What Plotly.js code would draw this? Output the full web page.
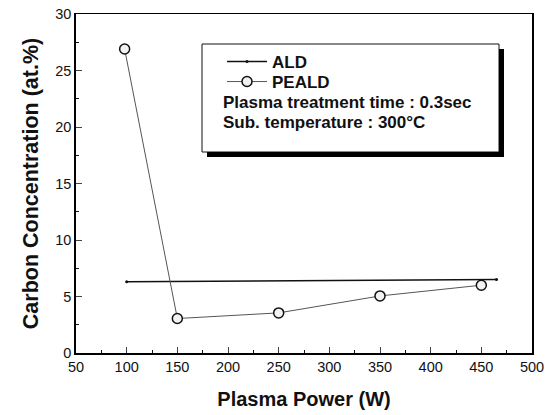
<!DOCTYPE html>
<html><head><meta charset="utf-8">
<script src="https://cdn.plot.ly/plotly-3.0.1.min.js"></script>
<style>html,body{margin:0;padding:0;background:#fff}</style>
</head><body>
<div id="chart" style="width:547px;height:415px"></div>
<script>
const pealdPower = [98, 150, 250, 350, 450];
const pealdCarbon = [26.9, 3.05, 3.55, 5.05, 6.0];
const aldPower = [100, 465];
const aldCarbon = [6.3, 6.5];
const seriesNames = ['ALD', 'PEALD'];
const noteLines = ['Plasma treatment time : 0.3sec', 'Sub. temperature : 300°C'];
const xTitle = 'Plasma Power (W)';
const yTitle = 'Carbon Concentration (at.%)';

const FONT = 'Liberation Sans, Arial, sans-serif';
const PW = 456, PH = 339; // plot area size in px
const px = v => (v - 76) / PW;
const py = v => (353 - v) / PH;

const traces = [
  {x: aldPower, y: aldCarbon, name: seriesNames[0], mode: 'lines+markers', legend: 'legend',
   line: {color: '#111', width: 1.5}, marker: {size: 3, color: '#111'}},
  {x: pealdPower, y: pealdCarbon, name: seriesNames[1], mode: 'lines+markers', legend: 'legend2',
   line: {color: '#555', width: 1}, marker: {symbol: 'circle', size: 10, color: '#f2f2f2', line: {color: '#111', width: 1.5}}}
];

const legFont = {family: FONT, size: 17, color: '#111', weight: 'bold'};
const layout = {
  width: 547, height: 415,
  margin: {l: 76, r: 15, t: 14, b: 62},
  paper_bgcolor: '#fff', plot_bgcolor: '#fff',
  font: {family: FONT, color: '#111'},
  showlegend: true,
  legend: {x: px(222), y: py(62), xanchor: 'left', yanchor: 'middle', bgcolor: 'rgba(0,0,0,0)',
           font: legFont, itemwidth: 40},
  legend2: {x: px(222), y: py(82), xanchor: 'left', yanchor: 'middle', bgcolor: 'rgba(0,0,0,0)',
           font: legFont, itemwidth: 40},
  xaxis: {range: [50, 500], dtick: 50, tick0: 50, ticks: 'inside', ticklen: 6, tickwidth: 1,
          minor: {dtick: 25, ticks: 'inside', ticklen: 3, tickcolor: '#111'},
          showline: true, linecolor: '#000', linewidth: 1.5, mirror: true, showgrid: false, zeroline: false,
          tickfont: {family: FONT, size: 14.5, color: '#111'},
          title: {text: xTitle, font: {family: FONT, size: 20, color: '#111', weight: 'bold'}, standoff: 18}},
  yaxis: {range: [0, 30], dtick: 5, ticks: 'inside', ticklen: 6, tickwidth: 1,
          minor: {dtick: 2.5, ticks: 'inside', ticklen: 3, tickcolor: '#111'},
          showline: true, linecolor: '#000', linewidth: 1.8, mirror: true, showgrid: false, zeroline: false,
          tickfont: {family: FONT, size: 14.5, color: '#111'},
          title: {text: yTitle, font: {family: FONT, size: 21.5, color: '#111', weight: 'bold'}, standoff: 11}},
  shapes: [
    {type: 'rect', xref: 'paper', yref: 'paper', x0: px(202), x1: px(499), y0: py(152), y1: py(44),
     fillcolor: '#fff', line: {color: '#111', width: 1}, layer: 'above'},
    {type: 'line', xref: 'paper', yref: 'paper', x0: px(207), x1: px(504), y0: py(154.5), y1: py(154.5),
     line: {color: '#000', width: 5}, layer: 'above'},
    {type: 'line', xref: 'paper', yref: 'paper', x0: px(501.5), x1: px(501.5), y0: py(157), y1: py(49),
     line: {color: '#000', width: 5}, layer: 'above'}
  ],
  annotations: [
    {xref: 'paper', yref: 'paper', x: px(221), y: py(102), xanchor: 'left', yanchor: 'middle',
     text: '<b>' + noteLines[0] + '</b>', showarrow: false, font: {family: FONT, size: 17, color: '#111'}},
    {xref: 'paper', yref: 'paper', x: px(221), y: py(122), xanchor: 'left', yanchor: 'middle',
     text: '<b>' + noteLines[1] + '</b>', showarrow: false, font: {family: FONT, size: 17, color: '#111'}}
  ]
};

Plotly.newPlot('chart', traces, layout, {displayModeBar: false, staticPlot: true});
</script>
</body></html>
